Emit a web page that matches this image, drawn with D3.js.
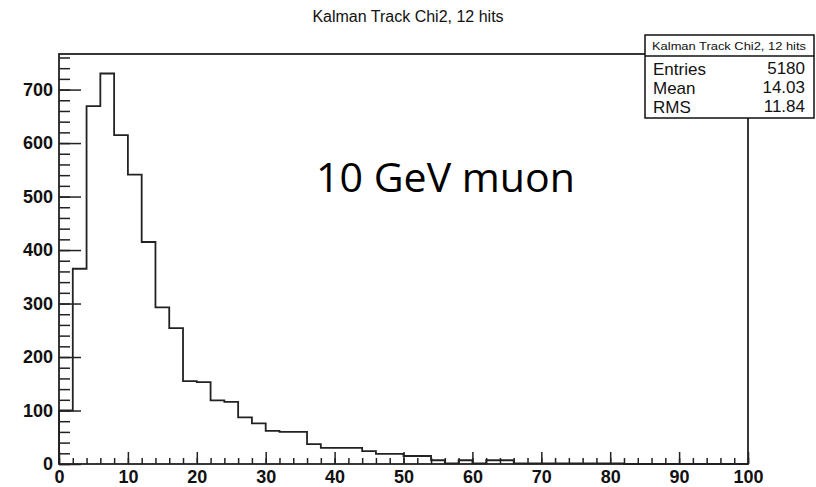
<!DOCTYPE html>
<html>
<head>
<meta charset="utf-8">
<script src="https://cdn.jsdelivr.net/npm/d3@7"></script>
<style>
  body { margin: 0; background: #fff; }
  svg { display: block; }
  .tick text { font-family: "Liberation Sans", Arial, sans-serif; font-weight: bold; font-size: 18px; fill: #111; }
  .tick line { stroke: #222; stroke-width: 1.5; }
</style>
</head>
<body>
<div id="chart"></div>
<script>
// histogram contents, 50 bins of width 2 from 0 to 100
var binWidth = 2;
var binCounts = [100, 365, 669, 730, 615, 541, 415, 293, 254, 155,
                 153, 119, 116, 87, 76, 62, 60, 60, 37, 30,
                 30, 30, 24, 19, 19, 15, 15, 7, 1, 7,
                 1, 7, 7, 1, 1, 1, 1, 1, 1, 1,
                 1, 0, 0, 0, 0, 0, 0, 0, 0, 0];
var xMajorTicks = [0, 10, 20, 30, 40, 50, 60, 70, 80, 90, 100];
var yMajorTicks = [0, 100, 200, 300, 400, 500, 600, 700];
var statLabels = ["Entries", "Mean", "RMS"];
var statValues = ["5180", "14.03", "11.84"];
var histTitle = "Kalman Track Chi2, 12 hits";
var note = "10 GeV muon";

function init() {
    var w = 816;
    var h = 487;
    var left = 59, right = 748, top = 54, bottom = 464;

    var svg = d3.select("#chart")
                .append("svg")
                .attr("width", w)
                .attr("height", h);

    // scales, y max like ROOT = 1.05 * max bin
    var xScale = d3.scaleLinear()
                   .domain([0, 100])
                   .range([left, right]);
    var yScale = d3.scaleLinear()
                   .domain([0, 1.05 * d3.max(binCounts)])
                   .range([bottom, top]);

    // title
    svg.append("text")
       .attr("x", w / 2)
       .attr("y", 22)
       .attr("text-anchor", "middle")
       .style("font-family", "Liberation Sans, Arial, sans-serif")
       .style("font-size", "16px")
       .style("fill", "#111")
       .text(histTitle);

    // minor ticks
    svg.append("g")
       .attr("transform", "translate(" + left + ",0)")
       .call(d3.axisLeft(yScale)
               .tickValues(d3.range(0, yScale.domain()[1], 20))
               .tickSize(-11)
               .tickFormat(""))
       .call(function(g) { g.select(".domain").remove(); });
    svg.append("g")
       .attr("transform", "translate(0," + bottom + ")")
       .call(d3.axisBottom(xScale)
               .tickValues(d3.range(0, 101, 2))
               .tickSize(-6)
               .tickFormat(""))
       .call(function(g) { g.select(".domain").remove(); });

    // major ticks with labels
    svg.append("g")
       .attr("transform", "translate(" + left + ",0)")
       .call(d3.axisLeft(yScale)
               .tickValues(yMajorTicks)
               .tickSize(-22)
               .tickPadding(6))
       .call(function(g) { g.select(".domain").remove(); });
    svg.append("g")
       .attr("transform", "translate(0," + bottom + ")")
       .call(d3.axisBottom(xScale)
               .tickValues(xMajorTicks)
               .tickSize(-12)
               .tickPadding(6))
       .call(function(g) { g.select(".domain").remove(); });

    // histogram outline
    var pts = [[0, 0]];
    binCounts.forEach(function(v, i) { pts.push([i * binWidth, v]); });
    pts.push([100, binCounts[binCounts.length - 1]]);
    var line = d3.line()
                 .x(function(d) { return xScale(d[0]); })
                 .y(function(d) { return yScale(d[1]); })
                 .curve(d3.curveStepAfter);
    svg.append("path")
       .datum(pts)
       .attr("d", line)
       .attr("fill", "none")
       .attr("stroke", "#222")
       .attr("stroke-width", 1.8);

    // frame
    svg.append("rect")
       .attr("x", left)
       .attr("y", top)
       .attr("width", right - left)
       .attr("height", bottom - top)
       .attr("fill", "none")
       .attr("stroke", "#222")
       .attr("stroke-width", 1.8);

    // stats box
    var bx = 645, by = 35, bw = 169, bh = 83;
    var box = svg.append("g");
    box.append("rect")
       .attr("x", bx).attr("y", by)
       .attr("width", bw).attr("height", bh)
       .attr("fill", "#fff")
       .attr("stroke", "#111")
       .attr("stroke-width", 1.5);
    box.append("line")
       .attr("x1", bx).attr("x2", bx + bw)
       .attr("y1", 56).attr("y2", 56)
       .attr("stroke", "#111")
       .attr("stroke-width", 1.5);
    box.append("text")
       .attr("x", 652)
       .attr("y", 49.5)
       .attr("textLength", 154)
       .attr("lengthAdjust", "spacingAndGlyphs")
       .style("font-family", "Liberation Sans, Arial, sans-serif")
       .style("font-size", "11px")
       .style("fill", "#111")
       .text(histTitle);
    statLabels.forEach(function(s, i) {
        box.append("text")
           .attr("x", 653)
           .attr("y", 75 + i * 19)
           .style("font-family", "Liberation Sans, Arial, sans-serif")
           .style("font-size", "17px")
           .style("fill", "#111")
           .text(s);
        box.append("text")
           .attr("x", 805)
           .attr("y", 74 + i * 19)
           .attr("text-anchor", "end")
           .style("font-family", "Liberation Sans, Arial, sans-serif")
           .style("font-size", "17px")
           .style("fill", "#111")
           .text(statValues[i]);
    });

    // annotation
    svg.append("text")
       .attr("x", 316)
       .attr("y", 192)
       .attr("textLength", 259)
       .attr("lengthAdjust", "spacingAndGlyphs")
       .style("font-family", "Open Sans, Noto Sans, sans-serif")
       .style("font-size", "40px")
       .style("fill", "#000")
       .text(note);
}
window.onload = init;
</script>
</body>
</html>
